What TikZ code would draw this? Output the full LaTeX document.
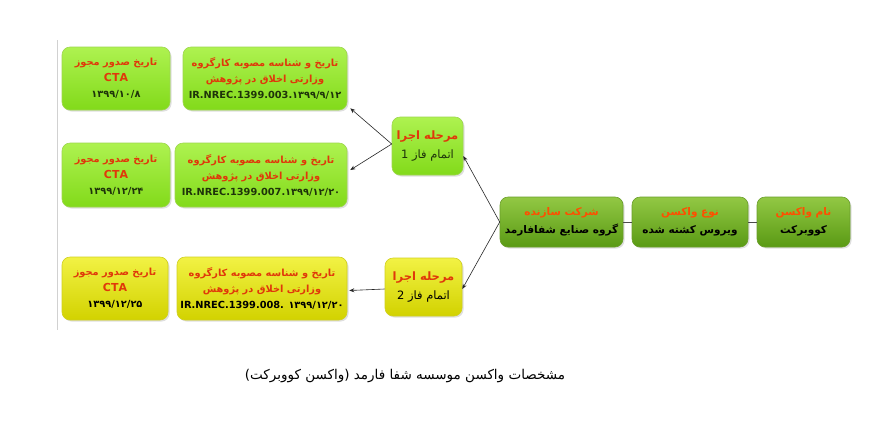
\documentclass[tikz,border=0pt]{standalone}
\usepackage{fontspec}
\TeXXeTstate=1
\newfontfamily\fa[Script=Arabic]{DejaVu Sans}
\usetikzlibrary{shadows,arrows.meta}
\definecolor{lgtop}{HTML}{AEF250}
\definecolor{lgbot}{HTML}{82DA1A}
\definecolor{lgdraw}{HTML}{9ED64E}
\definecolor{yltop}{HTML}{F2F244}
\definecolor{ylbot}{HTML}{D2D200}
\definecolor{yldraw}{HTML}{D0D020}
\definecolor{dgtop}{HTML}{92C844}
\definecolor{dgbot}{HTML}{5A9A14}
\definecolor{dgdraw}{HTML}{6A9E2A}
\definecolor{ttlred}{HTML}{E0380A}
\definecolor{ttlorg}{HTML}{FF4E00}
\definecolor{bdydark}{HTML}{1E330A}
\newcommand{\ttl}[1]{{\color{ttlred}\beginR #1\endR}}
\newcommand{\ttlo}[1]{{\color{ttlorg}\beginR #1\endR}}
\newcommand{\bdy}[1]{{\color{bdydark}\beginR #1\endR}}
\newcommand{\bdyk}[1]{{\color{black}\beginR #1\endR}}
\newcommand{\lat}[1]{{\color{bdydark}\beginL #1\endL}}
\newcommand{\cta}{{\color{ttlred}\fontsize{11}{16}\selectfont CTA}}
\tikzset{
  boxbase/.style={rounded corners=8pt, line width=0.6pt, align=center, inner sep=0pt,
    drop shadow={shadow xshift=1.5pt,shadow yshift=-1.5pt,opacity=0.25}},
  lgbox/.style={boxbase, top color=lgtop, bottom color=lgbot, draw=lgdraw,
    font=\fa\bfseries\fontsize{9.8}{16}\selectfont},
  ylbox/.style={boxbase, top color=yltop, bottom color=ylbot, draw=yldraw,
    font=\fa\bfseries\fontsize{9.8}{16}\selectfont},
  dgbox/.style={boxbase, top color=dgtop, bottom color=dgbot, draw=dgdraw,
    font=\fa\bfseries\fontsize{10.5}{18}\selectfont},
  phbox/.style={font=\fa\fontsize{11.5}{19}\selectfont},
  conn/.style={line width=0.6pt, black!85, -{Stealth[length=5pt,width=4pt]}},
  plain/.style={line width=0.6pt, black!70}
}
\begin{document}
\begin{tikzpicture}[x=1pt,y=-1pt]
\useasboundingbox[fill=white] (0,0) rectangle (877,432);
\draw[black!18, line width=0.6pt] (57,40) -- (57,330);

% CTA boxes
\node[lgbox, minimum width=108pt, minimum height=63pt] (cta1) at (116,78.5)
  {\ttl{تاریخ صدور مجوز}\\ \cta\\ \bdy{۱۳۹۹/۱۰/۸}};
\node[lgbox, minimum width=108pt, minimum height=64pt] (cta2) at (116,175)
  {\ttl{تاریخ صدور مجوز}\\ \cta\\ \bdy{۱۳۹۹/۱۲/۲۴}};
\node[ylbox, minimum width=106pt, minimum height=63pt] (cta3) at (115,288.5)
  {\ttl{تاریخ صدور مجوز}\\ \cta\\ {\color{black}\beginR ۱۳۹۹/۱۲/۲۵\endR}};

% ethics boxes
\node[lgbox, minimum width=164pt, minimum height=63pt] (eth1) at (265,78.5)
  {\ttl{تاریخ و شناسه مصوبه کارگروه}\\ \ttl{وزارتی اخلاق در پژوهش}\\ \lat{IR.NREC.1399.003.۱۳۹۹/۹/۱۲}};
\node[lgbox, minimum width=172pt, minimum height=64pt] (eth2) at (261,175)
  {\ttl{تاریخ و شناسه مصوبه کارگروه}\\ \ttl{وزارتی اخلاق در پژوهش}\\ \lat{IR.NREC.1399.007.۱۳۹۹/۱۲/۲۰}};
\node[ylbox, minimum width=170pt, minimum height=63pt] (eth3) at (262,288.5)
  {\ttl{تاریخ و شناسه مصوبه کارگروه}\\ \ttl{وزارتی اخلاق در پژوهش}\\ {\color{black}\beginL IR.NREC.1399.008. ۱۳۹۹/۱۲/۲۰\endL}};

% phase boxes
\node[lgbox, phbox, minimum width=71pt, minimum height=58pt] (ph1) at (427.5,146)
  {\ttl{\bfseries مرحله اجرا}\\ \bdy{اتمام فاز 1}};
\node[ylbox, phbox, minimum width=77pt, minimum height=58pt] (ph2) at (423.5,287)
  {\ttl{\bfseries مرحله اجرا}\\ {\color{black}\beginR اتمام فاز 2\endR}};

% dark green boxes
\node[dgbox, minimum width=123pt, minimum height=50pt] (comp) at (561.5,222)
  {\ttlo{شرکت سازنده}\\ \bdyk{گروه صنایع شفافارمد}};
\node[dgbox, minimum width=116pt, minimum height=50pt] (type) at (690,222)
  {\ttlo{نوع واکسن}\\ \bdyk{ویروس کشته شده}};
\node[dgbox, minimum width=93pt, minimum height=50pt] (name) at (803.5,222)
  {\ttlo{نام واکسن}\\ \bdyk{کووبرکت}};

% connectors
\draw[plain] (type.west) -- (comp.east);
\draw[plain] (name.west) -- (type.east);
\draw[conn] (comp.west) -- ([yshift=-10pt]ph1.east);
\draw[conn] (comp.west) -- ([yshift=-2pt]ph2.east);
\draw[conn] ([yshift=2pt]ph1.west) -- ([xshift=3pt,yshift=2pt]eth1.south east);
\draw[conn] ([yshift=2pt]ph1.west) -- ([xshift=3pt,yshift=5pt]eth2.east);
\draw[conn] ([yshift=-2pt]ph2.west) -- ([xshift=2pt,yshift=-2pt]eth3.east);

% caption
\node[font=\fa\fontsize{13.5}{16}\selectfont] (cap) at (405,376)
  {\beginR مشخصات واکسن موسسه شفا فارمد (واکسن کووبرکت)\endR};
\end{tikzpicture}
\end{document}
